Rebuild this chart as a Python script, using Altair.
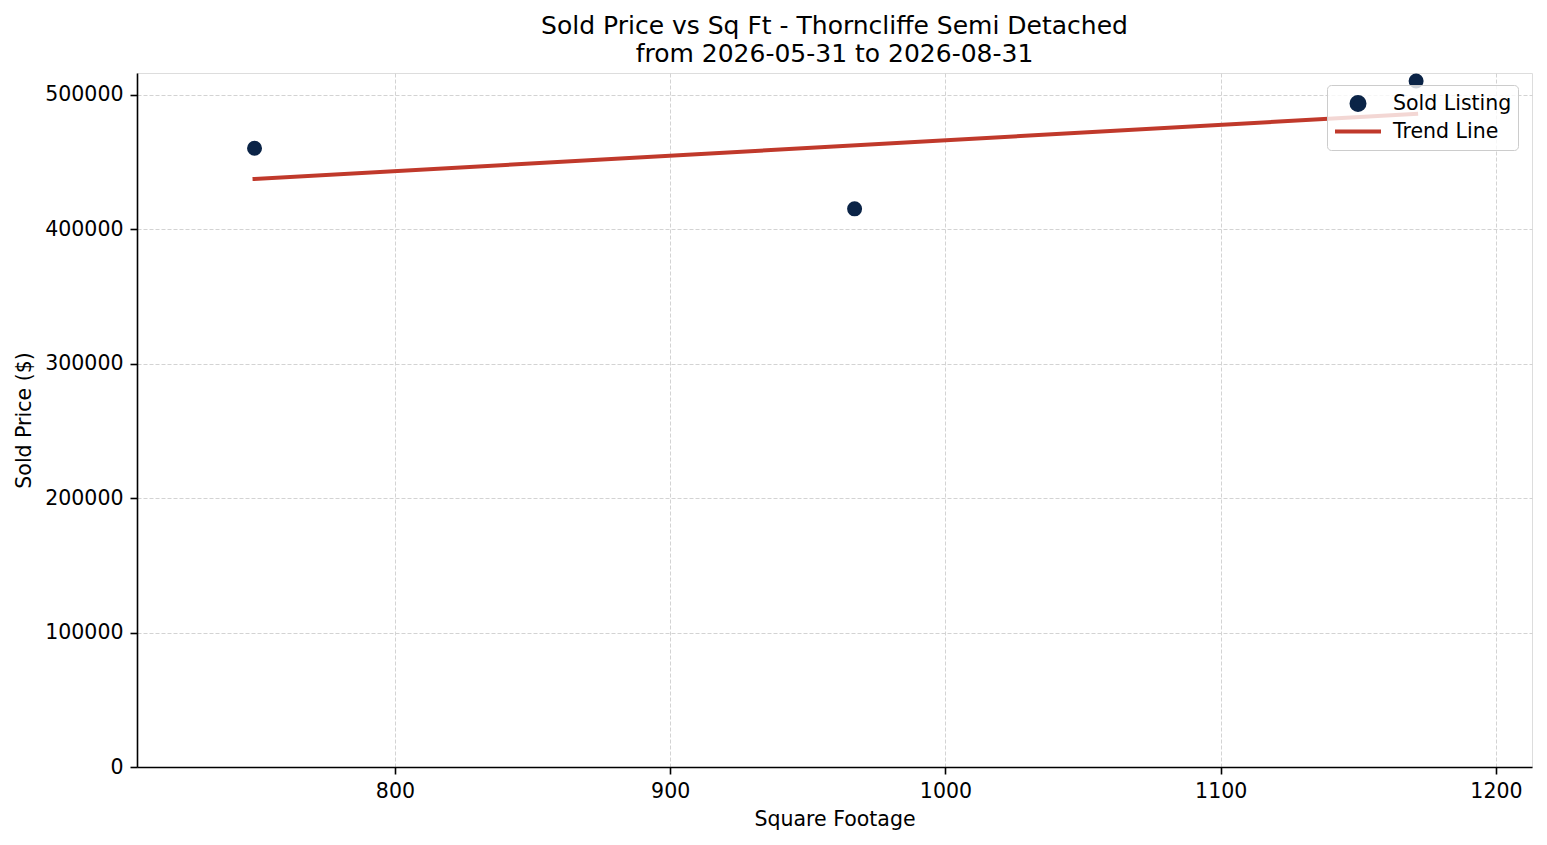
import pandas as pd
import altair as alt

# values
sq_ft = [749, 967, 1171]
sold_price = [460000, 415000, 510000]

series_names = ['Sold Listing', 'Trend Line']
series_colors = ['#0b2447', '#c0392b']
series_shapes = ['circle', 'stroke']
series_sizes = [169, 2116]

x_ticks = [800, 900, 1000, 1100, 1200]
y_ticks = [0, 100000, 200000, 300000, 400000, 500000]

df = pd.DataFrame({'sqft': sq_ft, 'price': sold_price, 'series': series_names[0]})

font = 'DejaVu Sans'

x_enc = alt.X('sqft:Q', title='Square Footage',
              scale=alt.Scale(domain=[706.3, 1213.1], nice=False, zero=False),
              axis=alt.Axis(values=x_ticks, format='d'))
y_enc = alt.Y('price:Q', title='Sold Price ($)',
              scale=alt.Scale(domain=[0, 516000], nice=False),
              axis=alt.Axis(values=y_ticks, format='d'))

color_scale = alt.Scale(domain=series_names, range=series_colors)
legend = alt.Legend(title=None, orient='none', legendX=1190, legendY=12)

# Trend line (least squares fit)
trend = (
    alt.Chart(df)
    .transform_regression('sqft', 'price')
    .transform_calculate(series='"Trend Line"')
    .mark_line(strokeWidth=4, strokeCap='square')
    .encode(
        x=x_enc,
        y=y_enc,
        stroke=alt.Stroke('series:N', scale=color_scale, legend=legend)
    )
)

# Sold listings
points = (
    alt.Chart(df)
    .mark_point(filled=True, opacity=1)
    .encode(
        x=x_enc,
        y=y_enc,
        fill=alt.Fill('series:N', scale=color_scale, legend=legend),
        stroke=alt.Stroke('series:N', scale=color_scale, legend=legend),
        shape=alt.Shape('series:N', scale=alt.Scale(domain=series_names, range=series_shapes), legend=legend),
        size=alt.Size('series:N', scale=alt.Scale(domain=series_names, range=series_sizes), legend=legend)
    )
)

chart = (
    alt.layer(trend, points)
    .properties(
        width=1395,
        height=694,
        autosize=alt.AutoSizeParams(type='none'),
        padding={'left': 129, 'top': 65, 'right': 5, 'bottom': 70},
        title=alt.TitleParams(
            ['Sold Price vs Sq Ft - Thorncliffe Semi Detached', 'from 2026-05-31 to 2026-08-31'],
            font=font, fontSize=25, fontWeight='normal', color='black',
            anchor='middle', frame='group', offset=4, lineHeight=28
        )
    )
    .configure_view(strokeWidth=0)
    .configure(background='white')
    .configure_axis(
        labelFont=font, labelFontSize=20.5, labelColor='black',
        titleFont=font, titleFontSize=20.5, titleFontWeight='normal', titleColor='black',
        domainColor='black', domainWidth=1.6,
        tickColor='black', tickWidth=1.6, tickSize=7,
        labelPadding=7, labelFlush=False,
        gridColor='#d3d3d3', gridDash=[4, 2], gridWidth=1
    )
    .configure_axisX(titlePadding=8)
    .configure_axisY(titlePadding=10)
    .configure_legend(
        fillColor='rgba(255,255,255,0.8)', strokeColor='#cccccc', cornerRadius=4,
        padding=6, labelFont=font, labelFontSize=20.5, labelColor='black',
        symbolStrokeWidth=4, symbolOpacity=1, rowPadding=3, clipHeight=25,
        labelOffset=10
    )
)

chart.save("out.html", embed_options={"renderer": "svg", "actions": False})
